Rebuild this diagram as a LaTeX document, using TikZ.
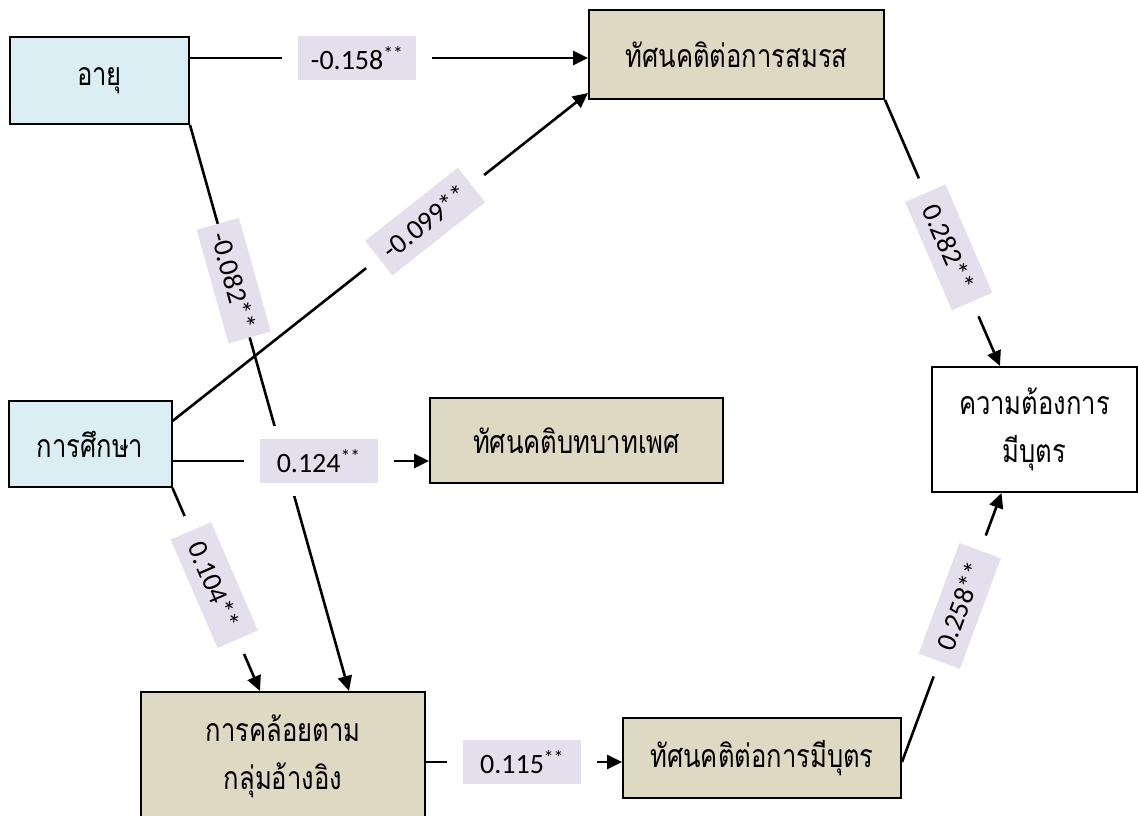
\documentclass[tikz,border=0pt]{standalone}
\usepackage{fontspec}
\newfontfamily\thai[Script=Thai,FakeStretch=0.8]{Loma}
\newfontfamily\numf{Carlito}
\usetikzlibrary{arrows.meta,calc}
\definecolor{bluefill}{RGB}{218,238,243}
\definecolor{tanfill}{RGB}{221,217,195}
\definecolor{lav}{RGB}{228,223,236}
\begin{document}
\begin{tikzpicture}[x=1pt,y=-1pt,
  box/.style={draw=black, line width=2pt, align=center, inner sep=0pt,
    font=\thai\fontsize{32}{48}\selectfont},
  ind/.style={box, fill=bluefill},
  med/.style={box, fill=tanfill},
  outc/.style={box, fill=white},
  conn/.style={line width=2.6pt, -{Triangle[length=15pt,width=14pt]}},
  gapbox/.style={fill=white, minimum width=150pt, minimum height=44pt, inner sep=0pt, sloped},
  lab/.style={fill=lav, minimum width=118pt, minimum height=44pt, inner sep=1pt, sloped,
    font=\numf\fontsize{28}{30}\selectfont},
]
\useasboundingbox (0,0) rectangle (1138,816);

% boxes
\node[ind, minimum width=179pt, minimum height=87pt] (a) at (99.5,80.5) {อายุ};
\node[med, minimum width=295pt, minimum height=89pt] (s) at (736.5,54.5) {ทัศนคติต่อการสมรส};
\node[ind, minimum width=163pt, minimum height=86pt] (e) at (90,444) {การศึกษา};
\node[med, minimum width=293pt, minimum height=85pt] (g) at (576.5,440.5) {ทัศนคติบทบาทเพศ};
\node[outc, minimum width=205pt, minimum height=125pt] (w) at (1034.5,429.5) {ความต้องการ\\มีบุตร};
\node[med, minimum width=284pt, minimum height=128pt] (k) at (283,756) {การคล้อยตาม\\กลุ่มอ้างอิง};
\node[med, minimum width=278pt, minimum height=80pt] (c) at (762,758) {ทัศนคติต่อการมีบุตร};

% anchor points
\coordinate (s1) at ([yshift=-3.5pt]s.west);
\coordinate (a1) at (s1 -| a.east);
\coordinate (k1) at ([xshift=209pt]k.north west);
\coordinate (k2) at ([xshift=120pt]k.north west);
\coordinate (e1) at ([yshift=-17pt]e.east);
\coordinate (g1) at (e1 -| g.west);
\coordinate (e2) at ([yshift=-21pt]e.north east);
\coordinate (s2) at ([yshift=7pt]s.south west);
\coordinate (k3) at ([yshift=-6pt]k.east);
\coordinate (c1) at (k3 -| c.west);
\coordinate (c2) at ([yshift=-4pt]c.east);
\coordinate (w1) at ([xshift=-34.5pt]w.north);
\coordinate (w2) at ([xshift=-33pt]w.south);

% connectors
\draw[conn] (a1) -- node[gapbox,pos=.42]{} node[lab,pos=.42]{-0.158\textsuperscript{**}} (s1);
\draw[conn] (a.south east) -- node[lab,pos=.275]{-0.082**} (k1);
\draw[conn] (e1) -- node[gapbox,pos=.57,minimum height=70pt]{} node[lab,pos=.57]{0.124\textsuperscript{**}} (g1);
\draw[conn] (e.south east) -- node[gapbox,pos=.478]{} node[lab,pos=.478]{0.104**} (k2);
\draw[conn] (k3) -- node[gapbox,pos=.49]{} node[lab,pos=.49]{0.115\textsuperscript{**}} (c1);
\draw[conn] (s.south east) -- node[gapbox,pos=.554]{} node[lab,pos=.554]{0.282**} (w1);
\draw[conn] (c2) -- node[gapbox,pos=.58]{} node[lab,pos=.58]{0.258**} (w2);
\draw[conn] (e2) -- node[gapbox,pos=.608]{} node[lab,pos=.608]{-0.099**} (s2);
\end{tikzpicture}
\end{document}
